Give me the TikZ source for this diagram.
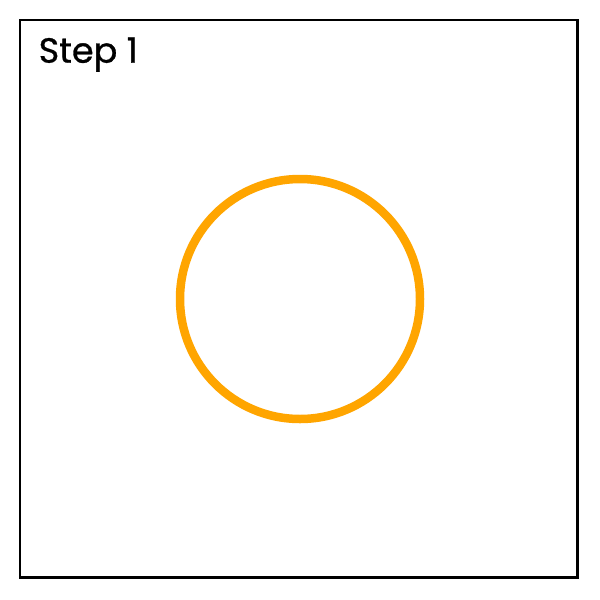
\documentclass[tikz,border=0pt]{standalone}
\usepackage{fontspec}
\setmainfont{Poppins}
\newfontfamily\titlefont{Poppins}[FakeBold=0.8]
\definecolor{ringorange}{RGB}{255,165,0}
\tikzset{
  frame/.style={draw=black, line width=2.5pt},
  ring/.style={draw=ringorange, line width=8.5pt},
  title/.style={anchor=base west, inner sep=0pt, font=\titlefont\fontsize{35}{42}\selectfont}
}
\begin{document}
\begin{tikzpicture}[x=1pt,y=-1pt]
\useasboundingbox (0,0) rectangle (600,600);
\node[frame, minimum width=557.5pt, minimum height=557.5pt, inner sep=0pt] (box) at (298.5,298.5) {};
\node[ring, circle, minimum size=240pt, inner sep=0pt] (c) at (300,299) {};
\node[title] (t) at (38.5,62.7) {Step 1};
\end{tikzpicture}
\end{document}
